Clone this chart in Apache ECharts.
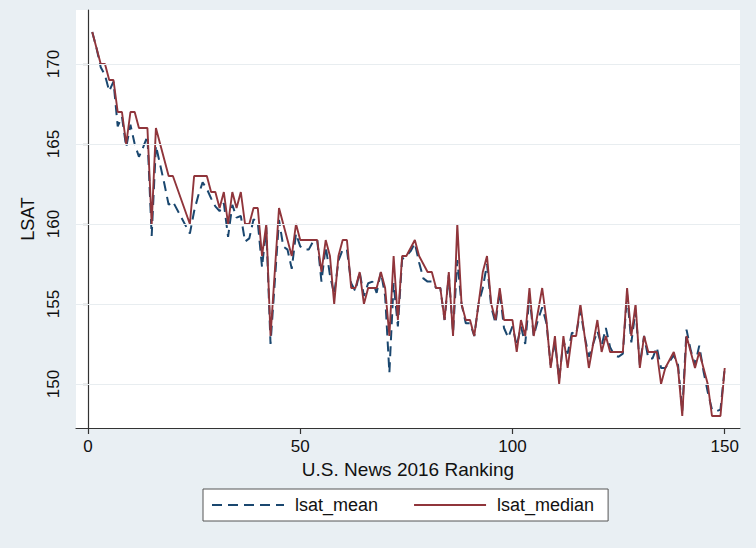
<!DOCTYPE html>
<html><head><meta charset="utf-8">
<script src="https://cdn.jsdelivr.net/npm/echarts@6/dist/echarts.min.js"></script>
<style>html,body{margin:0;padding:0;background:#e9eff3}#c{width:756px;height:548px}</style>
</head><body><div id="c"></div>
<script>
const ranks = [1,2,3,4,5,6,7,8,9,10,11,12,13,14,15,16,17,18,19,20,
  24,25,26,27,28,29,30,31,32,33,34,35,36,37,38,39,40,41,42,43,
  45,46,47,48,49,50,51,52,53,54,55,56,57,58,59,60,61,62,63,64,65,66,67,68,69,70,
  71,72,73,74,75,76,77,78,79,80,81,82,83,84,85,86,87,88,89,90,
  91,92,93,94,95,96,97,98,99,100,101,102,103,104,105,106,107,108,109,110,
  111,112,113,114,115,116,117,118,119,120,121,122,123,124,125,126,127,128,129,130,
  131,132,133,134,135,136,137,138,139,140,141,142,143,144,145,146,147,148,149,150];
const lsatMedian = [172,171,170,170,169,169,167,167,165,167,167,166,166,166,160,166,165,164,163,163,
  160,163,163,163,163,162,162,161,162,160,162,161,162,160,160,161,161,158,160,153,
  161,160,159,158,160,159,
  159,159,159,159,157,159,158,155,158,159,
  159,156,156,157,155,156,156,156,157,156,
  153,158,154,158,158,158.5,159,158,157.5,157,
  157,156,156,154,157,153,160,155,154,154,
  153,155,157,158,155,154,156,154,154,154,
  152,154,153,156,153,154.5,156,154,151,153,
  150,153,151,153,153,155,153,151,152.5,154,
  152,153,152,152,152,152,156,153,155,151,
  153,152,152,152,150,151,151.5,152,151,148,
  153,152,151,152,151,150,148,148,148,151];
const lsatMean = [172,171,169.8,169.3,168.3,168.9,166.1,166.7,164.8,166.2,165,164.2,164.8,165.5,159.25,164.9,163.7,162.5,161.2,161.4,
  159.4,160.8,161.8,162.6,162.2,161.6,161.1,160.8,161.3,159.2,161.2,160.4,160.5,158.9,159.1,160.3,160.1,157.3,159.8,152.5,
  160.25,158.6,158.4,157.2,159.4,158.6,
  158.4,158.4,158.9,159,156.4,158.6,156.8,155.6,157.7,158.4,
  158.4,156.3,155.8,157,155.5,156.3,156.4,155.7,157,155.5,
  150.7,156.3,153.6,157.8,158,158.3,158.8,157.6,156.6,156.4,
  156.4,156,156,154,156.8,153.2,157.75,155,153.8,153.8,
  153,155,156,157.5,154.8,153.8,155.8,153.5,152.9,153.6,
  152.4,153.6,152.5,155.5,153,154,154.8,153.8,151.2,152.6,
  150.3,152.7,151.9,153.2,153.1,154.6,153,151.7,152.5,153.3,
  152.4,153.5,152.3,151.8,151.7,151.9,155.6,152.6,154.6,151.2,
  153,151.6,151.6,152.3,151,151,151.4,151.8,151.2,148.3,
  153.4,152.1,151.2,152.4,150.8,149.5,148.4,148.3,148.4,151];
const xTicks = [0,50,100,150];
const yTicks = [150,155,160,165,170];
const seriesNames = ['lsat_mean','lsat_median'];
const xTitle = 'U.S. News 2016 Ranking';
const yTitle = 'LSAT';

const FONT = '"Liberation Sans",Arial,sans-serif';
const chart = echarts.init(document.getElementById('c'), null, {renderer:'svg'});
chart.setOption({
  backgroundColor:'#e9eff3',
  animation:false,
  textStyle:{fontFamily:FONT},
  grid:{left:76,right:16,top:10,bottom:120,show:true,backgroundColor:'#ffffff',borderWidth:0},
  legend:{
    data:seriesNames, left:203, top:489, orient:'horizontal',
    itemWidth:72, itemHeight:14, itemGap:35,
    padding:[7,14,7,8],
    backgroundColor:'#ffffff', borderColor:'#555555', borderWidth:1, borderRadius:0,
    itemStyle:{color:'rgba(0,0,0,0)',borderColor:'rgba(0,0,0,0)',borderWidth:0,opacity:0},
    textStyle:{fontSize:18,color:'#111',fontFamily:FONT,padding:[0,0,0,6]}
  },
  xAxis:{
    type:'value', min:-2.827, max:153.6,
    name:xTitle, nameLocation:'middle', nameGap:29,
    nameTextStyle:{fontSize:19,color:'#111',fontFamily:FONT},
    axisLine:{show:true,lineStyle:{color:'#333',width:1.2}},
    axisTick:{show:true,customValues:xTicks,length:6,lineStyle:{color:'#333',width:1.2}},
    axisLabel:{customValues:xTicks,fontSize:17,color:'#111',margin:10,fontFamily:FONT},
    splitLine:{show:false}
  },
  yAxis:{
    type:'value', min:147.25, max:173.375,
    name:yTitle, nameLocation:'middle', nameGap:20, nameRotate:90,
    nameTextStyle:{fontSize:18,color:'#111',fontFamily:FONT},
    axisLine:{show:true,lineStyle:{color:'#333',width:1.2}},
    axisTick:{show:true,customValues:yTicks,length:5,lineStyle:{color:'#333',width:1.2}},
    axisLabel:{customValues:yTicks,rotate:90,fontSize:17,color:'#111',margin:14,fontFamily:FONT},
    splitLine:{show:false}
  },
  series:[
    {type:'line', name:'grid', data:[], z:1, silent:true,
     markLine:{silent:true,symbol:'none',label:{show:false},animation:false,
       lineStyle:{color:'#e8edf0',width:1.2,type:'solid'},
       data:yTicks.map(v=>({yAxis:v}))}},
    {type:'line', name:seriesNames[0], z:3, showSymbol:false, symbol:'none',
     data:ranks.map((r,i)=>[r,lsatMean[i]]),
     lineStyle:{color:'#1a476f',width:2,type:[10,6]}, itemStyle:{color:'#1a476f'}},
    {type:'line', name:seriesNames[1], z:4, showSymbol:false, symbol:'none',
     data:ranks.map((r,i)=>[r,lsatMedian[i]]),
     lineStyle:{color:'#90353b',width:1.9,type:'solid'}, itemStyle:{color:'#90353b'}}
  ]
});
</script></body></html>
